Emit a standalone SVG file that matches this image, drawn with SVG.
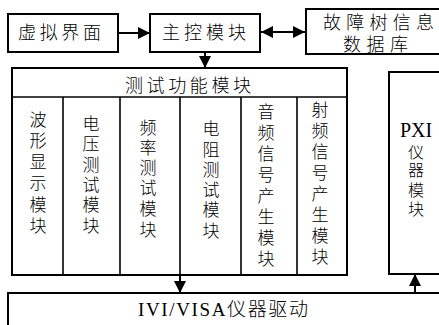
<svg xmlns="http://www.w3.org/2000/svg" width="439" height="325" viewBox="0 0 439 325">
<style>
.b{fill:#fff;stroke:#000;stroke-width:2}
.l{stroke:#000;stroke-width:2;fill:none}
.d{stroke:#000;stroke-width:1.6;fill:none}
text{font-family:"Liberation Serif","Noto Sans CJK SC",serif;fill:#000;font-size:17px;font-weight:300}
.v{text-anchor:middle}
</style>
<defs>
<marker id="ah" viewBox="0 0 12 12" refX="12" refY="6" markerWidth="12" markerHeight="12" markerUnits="userSpaceOnUse" orient="auto-start-reverse"><path d="M0,0 L12,6 L0,12 Z" fill="#000"/></marker>
</defs>
<rect width="439" height="325" fill="#fff"/>
<g id="connectors">
<line class="l" x1="118" y1="33" x2="150" y2="33" marker-end="url(#ah)"/>
<line class="l" x1="261" y1="32" x2="305" y2="32" marker-start="url(#ah)" marker-end="url(#ah)"/>
<line class="l" x1="205" y1="52" x2="205" y2="68" marker-end="url(#ah)"/>
<line class="l" x1="180" y1="275" x2="180" y2="293" marker-end="url(#ah)"/>
<line class="l" x1="415" y1="293" x2="415" y2="274" marker-end="url(#ah)"/>
</g>
<g id="virtual-ui">
<rect class="b" x="8" y="14" width="110" height="38"/>
<text x="18" y="39" textLength="83" lengthAdjust="spacing" style="font-size:18px">虚拟界面</text>
</g>
<g id="main-control">
<rect class="b" x="150" y="14" width="110" height="38"/>
<text x="162" y="39" textLength="84" lengthAdjust="spacing" style="font-size:18px">主控模块</text>
</g>
<g id="fault-tree-db">
<rect class="b" x="306" y="9" width="145" height="45"/>
<text x="323" y="29" textLength="111" lengthAdjust="spacing" style="font-size:18px">故障树信息</text>
<text x="343" y="51" textLength="65" lengthAdjust="spacing" style="font-size:18px">数据库</text>
</g>
<g id="test-modules">
<rect class="b" x="12" y="68" width="335" height="207"/>
<line class="d" x1="12" y1="97" x2="347" y2="97"/>
<line class="d" x1="63" y1="97" x2="63" y2="275"/>
<line class="d" x1="120" y1="97" x2="120" y2="275"/>
<line class="d" x1="180" y1="97" x2="180" y2="275"/>
<line class="d" x1="241" y1="97" x2="241" y2="275"/>
<line class="d" x1="297" y1="97" x2="297" y2="275"/>
<text x="125" y="92" textLength="126" lengthAdjust="spacing" style="font-size:18px">测试功能模块</text>
<text class="v" x="38"><tspan x="38" y="126">波</tspan><tspan x="38" y="147">形</tspan><tspan x="38" y="168">显</tspan><tspan x="38" y="189">示</tspan><tspan x="38" y="211">模</tspan><tspan x="38" y="232">块</tspan></text>
<text class="v" x="91"><tspan x="91" y="130">电</tspan><tspan x="91" y="150">压</tspan><tspan x="91" y="171">测</tspan><tspan x="91" y="191">试</tspan><tspan x="91" y="211">模</tspan><tspan x="91" y="232">块</tspan></text>
<text class="v" x="148"><tspan x="148" y="134">频</tspan><tspan x="148" y="154">率</tspan><tspan x="148" y="174">测</tspan><tspan x="148" y="194">试</tspan><tspan x="148" y="215">模</tspan><tspan x="148" y="236">块</tspan></text>
<text class="v" x="211"><tspan x="211" y="135">电</tspan><tspan x="211" y="156">阻</tspan><tspan x="211" y="176">测</tspan><tspan x="211" y="196">试</tspan><tspan x="211" y="216">模</tspan><tspan x="211" y="237">块</tspan></text>
<text class="v" x="266"><tspan x="266" y="118">音</tspan><tspan x="266" y="139">频</tspan><tspan x="266" y="160">信</tspan><tspan x="266" y="181">号</tspan><tspan x="266" y="202">产</tspan><tspan x="266" y="223">生</tspan><tspan x="266" y="244">模</tspan><tspan x="266" y="265">块</tspan></text>
<text class="v" x="320"><tspan x="320" y="116">射</tspan><tspan x="320" y="137">频</tspan><tspan x="320" y="158">信</tspan><tspan x="320" y="179">号</tspan><tspan x="320" y="200">产</tspan><tspan x="320" y="221">生</tspan><tspan x="320" y="242">模</tspan><tspan x="320" y="263">块</tspan></text>
</g>
<g id="pxi">
<rect class="b" x="389" y="72" width="60" height="202"/>
<text class="v" x="416" y="137" style="font-size:20px">PXI</text>
<text class="v" x="416" style="font-size:16px"><tspan x="416" y="158">仪</tspan><tspan x="416" y="176">器</tspan><tspan x="416" y="196">模</tspan><tspan x="416" y="215">块</tspan></text>
</g>
<g id="ivi-visa">
<rect class="b" x="8" y="293" width="445" height="45"/>
<text x="138" y="316" textLength="170" lengthAdjust="spacing" style="font-size:19px">IVI/VISA仪器驱动</text>
</g>
</svg>
